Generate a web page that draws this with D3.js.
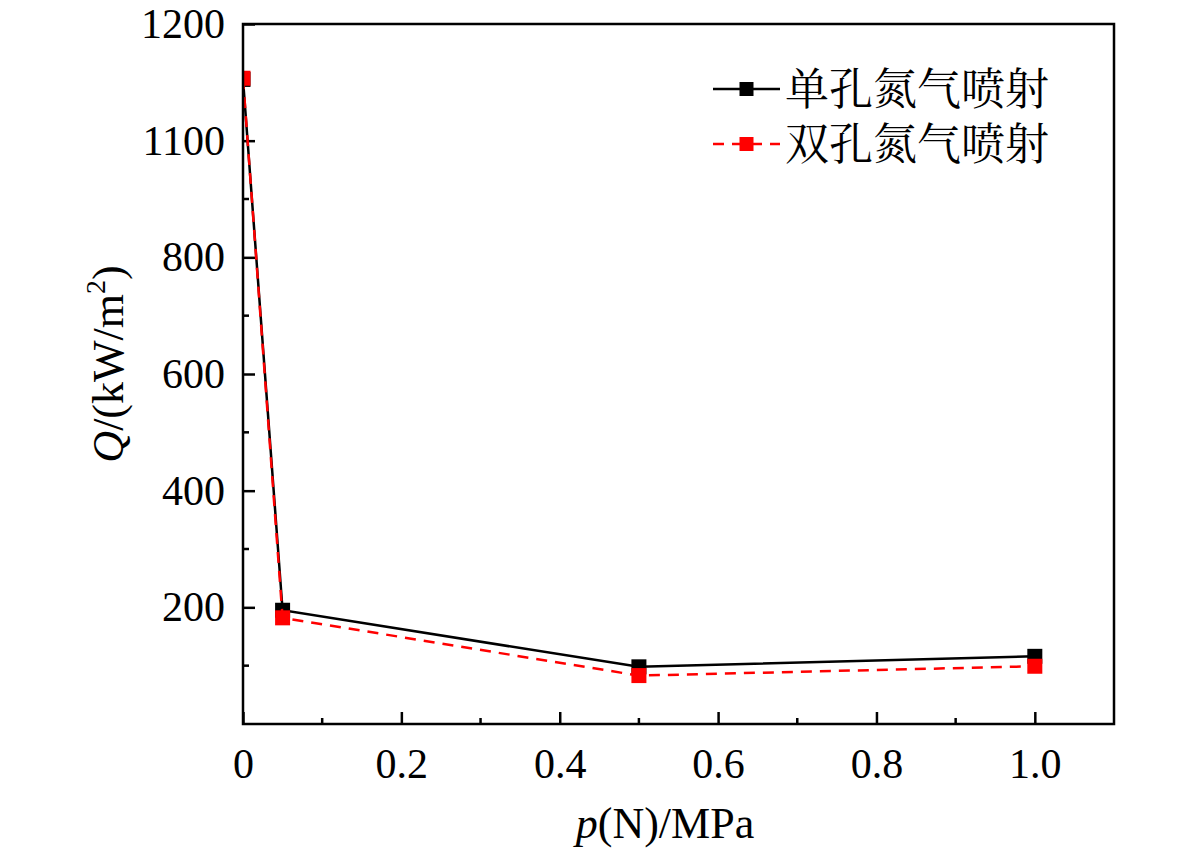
<!DOCTYPE html>
<html>
<head>
<meta charset="utf-8">
<script src="https://cdn.jsdelivr.net/npm/d3@7"></script>
<style>
  html, body { margin: 0; padding: 0; background: #fff; }
  svg { display: block; }
</style>
</head>
<body>
<svg id="chart" width="1181" height="854"></svg>
<script>
// ---- data ----
const pressure = [0, 0.05, 0.5, 1.0];
const singleHole = [1105, 195, 98, 116];
const doubleHole = [1107, 182, 83, 99];
const seriesNames = ["单孔氮气喷射", "双孔氮气喷射"];
const xTickValues = [0, 0.2, 0.4, 0.6, 0.8, 1.0];
const xTickLabels = ["0", "0.2", "0.4", "0.6", "0.8", "1.0"];
const xMinorTicks = [0.1, 0.3, 0.5, 0.7, 0.9];
const yTickValues = [200, 400, 600, 800, 1000, 1200];
const yTickLabels = ["200", "400", "600", "800", "1100", "1200"];
const yMinorTicks = [100, 300, 500, 700, 900, 1100];

// ---- layout ----
const W = 1181, H = 854;
const m = { left: 243, top: 24, right: 67, bottom: 130 };
const pw = W - m.left - m.right, ph = H - m.top - m.bottom;
const serif = "'Liberation Serif', 'Times New Roman', serif";
const cjk = "'Noto Serif CJK SC', 'Noto Sans CJK SC', sans-serif";

const svg = d3.select("#chart");
const g = svg.append("g").attr("transform", `translate(${m.left},${m.top})`);

const x = d3.scaleLinear().domain([0, 1.1]).range([0, pw]);
const y = d3.scaleLinear().domain([0, 1200]).range([ph, 0]);

svg.append("defs").append("clipPath").attr("id", "plotclip")
  .append("rect").attr("x", 0).attr("y", 0).attr("width", pw).attr("height", ph);

// axes with inward ticks
const xAxis = d3.axisBottom(x).tickValues(xTickValues)
  .tickFormat((d, i) => xTickLabels[i]).tickSizeInner(-12).tickSizeOuter(0).tickPadding(24);
const yAxis = d3.axisLeft(y).tickValues(yTickValues)
  .tickFormat((d, i) => yTickLabels[i]).tickSizeInner(-12).tickSizeOuter(0).tickPadding(18);

const gx = g.append("g").attr("transform", `translate(0,${ph})`).call(xAxis);
const gy = g.append("g").call(yAxis);
[gx, gy].forEach(a => {
  a.select(".domain").remove();
  a.selectAll(".tick line").attr("stroke", "#000").attr("stroke-width", 2.5);
  a.selectAll(".tick text").attr("font-family", serif).attr("font-size", 42).attr("fill", "#000");
});
gx.selectAll(".tick text").attr("dy", "0.71em");

// minor ticks
g.append("g").selectAll("line").data(xMinorTicks).join("line")
  .attr("x1", d => x(d)).attr("x2", d => x(d))
  .attr("y1", ph).attr("y2", ph - 6)
  .attr("stroke", "#000").attr("stroke-width", 2.5);
g.append("g").selectAll("line").data(yMinorTicks).join("line")
  .attr("x1", 0).attr("x2", 6)
  .attr("y1", d => y(d)).attr("y2", d => y(d))
  .attr("stroke", "#000").attr("stroke-width", 2.5);

// data
const seriesData = [
  { name: seriesNames[0], values: singleHole, color: "#000", dash: null },
  { name: seriesNames[1], values: doubleHole, color: "#ff0000", dash: "11,8" }
];
const line = d3.line().x(d => x(d[0])).y(d => y(d[1]));
const plot = g.append("g").attr("clip-path", "url(#plotclip)");
seriesData.forEach(s => {
  const pts = pressure.map((p, i) => [p, s.values[i]]);
  plot.append("path").datum(pts).attr("d", line)
    .attr("fill", "none").attr("stroke", s.color).attr("stroke-width", 2.5)
    .attr("stroke-dasharray", s.dash);
  plot.append("g").selectAll("rect").data(pts).join("rect")
    .attr("x", d => x(d[0]) - 7.5).attr("y", d => y(d[1]) - 7.5)
    .attr("width", 15).attr("height", 15).attr("fill", s.color);
});

// frame
g.append("rect").attr("x", 0).attr("y", 0).attr("width", pw).attr("height", ph)
  .attr("fill", "none").attr("stroke", "#000").attr("stroke-width", 2.5);

// legend
const leg = g.append("g").attr("transform", `translate(${713 - m.left},${89 - m.top})`);
seriesData.forEach((s, i) => {
  const r = leg.append("g").attr("transform", `translate(0,${i * 55})`);
  r.append("line").attr("x1", 0).attr("x2", 67).attr("y1", 0).attr("y2", 0)
    .attr("stroke", s.color).attr("stroke-width", 2.5)
    .attr("stroke-dasharray", s.dash ? "11,8" : null);
  r.append("rect").attr("x", 33.5 - 7).attr("y", -7).attr("width", 14).attr("height", 14).attr("fill", s.color);
  r.append("text").attr("x", 72).attr("y", 0).attr("dy", "0.36em")
    .attr("font-family", cjk).attr("font-size", 44).attr("fill", "#000").text(s.name);
});

// axis titles
const xt = svg.append("text").attr("x", 665).attr("y", 838).attr("text-anchor", "middle")
  .attr("font-family", serif).attr("font-size", 44).attr("fill", "#000");
xt.append("tspan").attr("font-style", "italic").text("p");
xt.append("tspan").text("(N)/MPa");

const yt = svg.append("text").attr("transform", `translate(123,364) rotate(-90)`)
  .attr("text-anchor", "middle").attr("font-family", serif).attr("font-size", 44).attr("fill", "#000");
yt.append("tspan").attr("font-style", "italic").text("Q");
yt.append("tspan").text("/(kW/m");
yt.append("tspan").attr("font-size", 28).attr("dy", -18).text("2");
yt.append("tspan").attr("dy", 18).text(")");
</script>
</body>
</html>
